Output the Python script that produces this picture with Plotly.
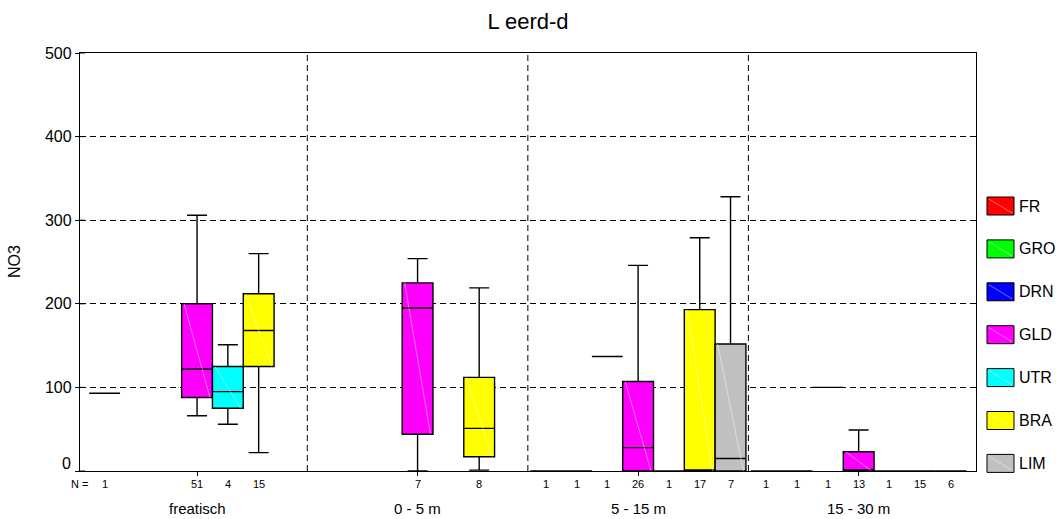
import plotly.graph_objects as go

# Depth classes on the category axis and the regions drawn within each class
groups = ["freatisch", "0 - 5 m", "5 - 15 m", "15 - 30 m"]
series = ["FR", "GRO", "DRN", "GLD", "UTR", "BRA", "LIM"]
colors = ["#FF0000", "#00FF00", "#0000FF", "#FF00FF", "#00FFFF", "#FFFF00", "#C0C0C0"]

# Rows follow `series`, columns follow `groups`; None = no samples
n_counts = [
    [1, None, 1, 1],
    [None, None, 1, 1],
    [None, None, 1, 1],
    [51, 7, 26, 13],
    [4, None, 1, 1],
    [15, 8, 17, 15],
    [None, None, 7, 6],
]
whisker_low = [
    [93, None, 0, 0],
    [None, None, 0, 0],
    [None, None, 137, 100],
    [66, 0, 0, 0],
    [56, None, 0, 0],
    [22, 1, 0, 0],
    [None, None, 0, 0],
]
q1 = [
    [93, None, 0, 0],
    [None, None, 0, 0],
    [None, None, 137, 100],
    [88, 44, 0, 0],
    [75, None, 0, 0],
    [125, 17, 0, 0],
    [None, None, 0, 0],
]
median = [
    [93, None, 0, 0],
    [None, None, 0, 0],
    [None, None, 137, 100],
    [122, 195, 28, 0],
    [95, None, 0, 0],
    [168, 51, 0, 0],
    [None, None, 15, 0],
]
q3 = [
    [93, None, 0, 0],
    [None, None, 0, 0],
    [None, None, 137, 100],
    [200, 225, 107, 23],
    [125, None, 0, 0],
    [212, 112, 193, 0],
    [None, None, 152, 0],
]
whisker_high = [
    [93, None, 0, 0],
    [None, None, 0, 0],
    [None, None, 137, 100],
    [306, 254, 246, 49],
    [151, None, 0, 0],
    [260, 219, 279, 0],
    [None, None, 328, 0],
]
y_ticks = [0, 100, 200, 300, 400, 500]

FONT = "Liberation Sans, Arial, sans-serif"
GROUP_STEP = 7.16          # distance between class centres, in box widths
X_RANGE = [-3.80, 25.29]
DASH = "6px,4px"
SHEEN = "rgba(255,255,255,0.45)"

# plot-area geometry (pixels) used for the hand-made legend and labels
L, R, T, B = 80, 84, 53, 48
W, H = 1060, 519
PW, PH = W - L - R, H - T - B


def px_x(px):
    return (px - L) / PW


def px_y(py):
    return (H - B - py) / PH


def slot_x(g, s):
    return g * GROUP_STEP + (s - 3)


def label(text, x, y, xref, yref, size, **kw):
    d = dict(text=text, x=x, y=y, xref=xref, yref=yref, showarrow=False,
             xanchor="center", yanchor="middle",
             font=dict(family=FONT, size=size, color="black"))
    d.update(kw)
    return d


fig = go.Figure()
shapes = []

for s, name in enumerate(series):
    xs, lo, a, m, b, hi = [], [], [], [], [], []
    for g in range(len(groups)):
        if n_counts[s][g] is None:
            continue
        x = slot_x(g, s)
        xs.append(x)
        lo.append(whisker_low[s][g])
        a.append(q1[s][g])
        m.append(median[s][g])
        b.append(q3[s][g])
        hi.append(whisker_high[s][g])
        # faint diagonal highlight across the box body
        if q3[s][g] > q1[s][g]:
            shapes.append(dict(type="line", xref="x", yref="y",
                               x0=x - 0.42, x1=x + 0.42,
                               y0=q3[s][g], y1=q1[s][g],
                               line=dict(color=SHEEN, width=1)))
    fig.add_trace(go.Box(
        name=name, x=xs, q1=a, median=m, q3=b,
        lowerfence=lo, upperfence=hi,
        orientation="v", width=1, whiskerwidth=0.65,
        fillcolor=colors[s], line=dict(color="black", width=1.4),
        boxpoints=False, showlegend=False, hoverinfo="skip",
    ))

# dashed separators between depth classes
for g in range(len(groups) - 1):
    xv = (g + 0.5) * GROUP_STEP
    shapes.append(dict(type="line", xref="x", yref="y", x0=xv, x1=xv,
                       y0=0, y1=500,
                       line=dict(color="black", width=1, dash=DASH),
                       layer="below"))

# value ticks reach slightly into the plot as well
for v in y_ticks:
    shapes.append(dict(type="line", xref="paper", yref="y",
                       x0=0, x1=px_x(85), y0=v, y1=v,
                       line=dict(color="black", width=1)))

annotations = []
# sample counts under each box
annotations.append(label("N =", px_x(79), px_y(484), "paper", "paper", 11))
for s in range(len(series)):
    for g in range(len(groups)):
        n = n_counts[s][g]
        if n is None:
            continue
        annotations.append(label(str(n), slot_x(g, s), px_y(484),
                                 "x", "paper", 11))
# class names
for g, name in enumerate(groups):
    annotations.append(label(name, g * GROUP_STEP, px_y(509), "x", "paper", 15))
# zero label sits a little above the baseline
annotations.append(label("0", 0, 0, "paper", "y", 16,
                         xanchor="right", xshift=-7, yshift=8))
# axis title
annotations.append(label("NO3", px_x(14), 0.5, "paper", "paper", 16,
                         textangle=-90))

# legend: swatch + label per region
for s, name in enumerate(series):
    cy = 206 + s * 42.9
    shapes.append(dict(type="rect", xref="paper", yref="paper",
                       x0=px_x(987), x1=px_x(1014),
                       y0=px_y(cy + 9), y1=px_y(cy - 9),
                       fillcolor=colors[s],
                       line=dict(color="black", width=1)))
    shapes.append(dict(type="line", xref="paper", yref="paper",
                       x0=px_x(989), x1=px_x(1012),
                       y0=px_y(cy - 7), y1=px_y(cy + 7),
                       line=dict(color=SHEEN, width=1)))
    annotations.append(label(name, px_x(1017), px_y(cy), "paper", "paper", 16,
                             xanchor="left"))

fig.update_layout(
    width=W, height=H,
    margin=dict(l=L, r=R, t=T, b=B),
    paper_bgcolor="white", plot_bgcolor="white",
    boxmode="overlay",
    title=dict(text="L eerd-d", x=0.5, xref="paper", y=1 - 21.7 / H,
               yanchor="middle", xanchor="center",
               font=dict(family=FONT, size=22, color="black")),
    xaxis=dict(range=X_RANGE, showgrid=False, zeroline=False,
               showline=True, mirror=True, linecolor="black", linewidth=1.3,
               tickvals=[g * GROUP_STEP for g in range(len(groups))],
               ticks="outside", ticklen=4, tickcolor="black",
               showticklabels=False),
    yaxis=dict(range=[0, 500], tickvals=y_ticks,
               ticktext=["" if v == 0 else str(v) for v in y_ticks],
               showgrid=True, gridcolor="black", gridwidth=1,
               griddash=DASH, zeroline=False,
               showline=True, mirror=True, linecolor="black", linewidth=1.3,
               ticks="outside", ticklen=4, tickcolor="black",
               tickfont=dict(family=FONT, size=16, color="black")),
    shapes=shapes,
    annotations=annotations,
)

fig.write_html("out.html")
